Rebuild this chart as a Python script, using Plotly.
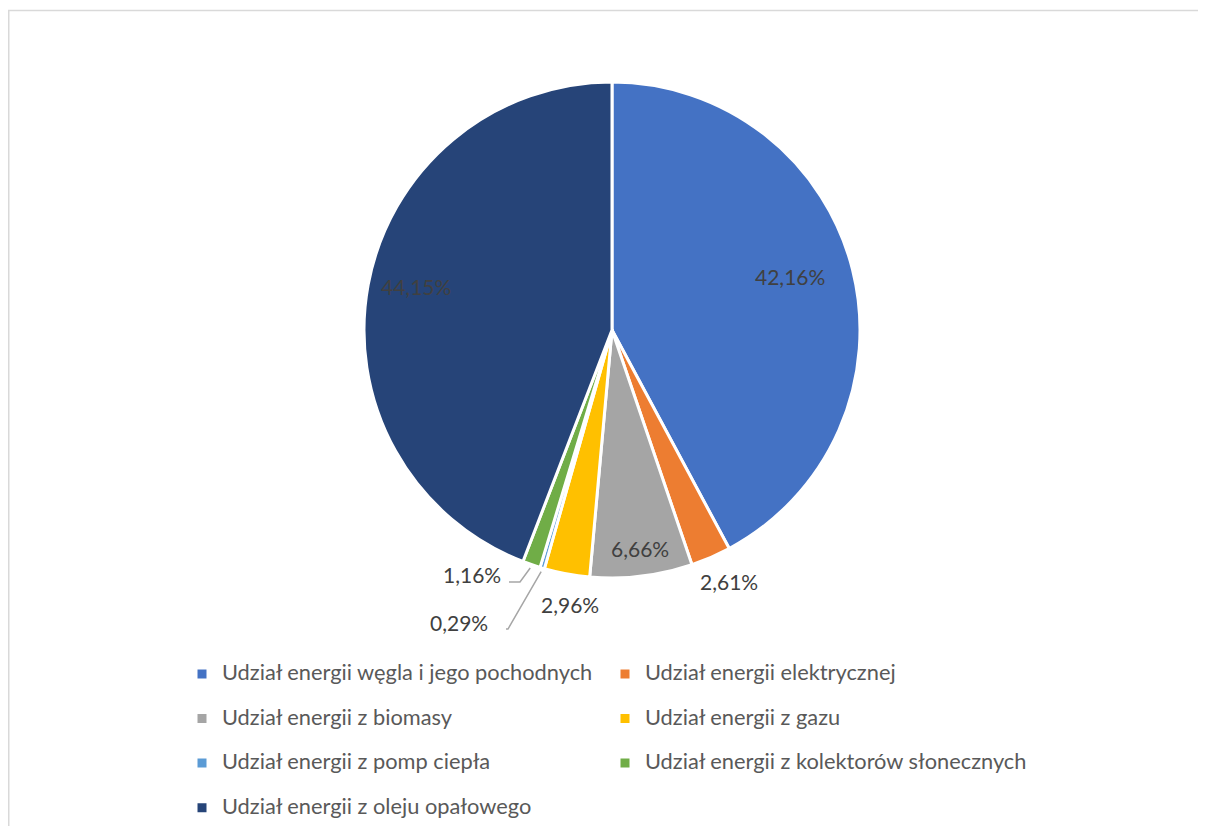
import math
import plotly.graph_objects as go

# ---- data ----
labels = [
    "Udział energii węgla i jego pochodnych",
    "Udział energii elektrycznej",
    "Udział energii z biomasy",
    "Udział energii z gazu",
    "Udział energii z pomp ciepła",
    "Udział energii z kolektorów słonecznych",
    "Udział energii z oleju opałowego",
]
values = [42.16, 2.61, 6.66, 2.96, 0.29, 1.16, 44.15]
colors = ["#4472C4", "#ED7D31", "#A5A5A5", "#FFC000", "#5B9BD5", "#70AD47", "#264478"]

# ---- layout geometry (page pixels; the page body has an 8px margin) ----
OFF = 8
W, H = 1206 - 2 * OFF, 834 - 2 * OFF
CX, CY, R = 612, 330, 248
FONT = "Lato"

def px(x):
    return (x - OFF) / W

def py(y):
    return 1 - (y - OFF) / H

# label placement: (radius factor, angle shift deg)
label_place = {
    0: dict(f=0.75, shift=-2.5),
    1: dict(f=1.12, shift=-1.5),
    2: dict(f=0.89, shift=-0.5),
    3: dict(f=1.12, shift=-1.7),
    6: dict(f=0.81, shift=2.0),
}
# small slices: labels moved aside, with leader lines (pixel positions)
moved = {
    4: dict(text_right=(490, 622), knee=[(506, 629), (508, 629)]),
    5: dict(text_right=(503, 574), knee=[(509, 582), (520, 582)]),
}

fig = go.Figure(
    go.Pie(
        labels=["<span style='font-size:21.8px'>" + l + "</span><br> " for l in labels],
        values=values,
        sort=False,
        direction="clockwise",
        rotation=0,
        marker=dict(colors=colors, line=dict(color="white", width=3)),
        textinfo="none",
        hoverinfo="percent",
        domain=dict(x=[px(CX - R), px(CX + R)], y=[py(CY + R), py(CY - R)]),
    )
)

total = sum(values)
annotations = []
shapes = []
cum = 0.0
for i, v in enumerate(values):
    a0 = cum / total * 360
    cum += v
    a1 = cum / total * 360
    mid = (a0 + a1) / 2
    txt = f"{v:.2f}%".replace(".", ",")
    if i in label_place:
        p = label_place[i]
        ang = math.radians(mid + p["shift"])
        x = CX + p["f"] * R * math.sin(ang)
        y = CY - p["f"] * R * math.cos(ang)
        annotations.append(dict(
            x=px(x), y=py(y), xref="paper", yref="paper", text=txt,
            showarrow=False, xanchor="center", yanchor="middle",
            font=dict(family=FONT, size=21, color="#404040"),
        ))
    else:
        m = moved[i]
        tx, ty = m["text_right"]
        annotations.append(dict(
            x=px(tx), y=py(ty), xref="paper", yref="paper", text=txt,
            showarrow=False, xanchor="right", yanchor="middle",
            font=dict(family=FONT, size=21, color="#404040"),
        ))
        ang = math.radians(mid)
        ex = CX + 1.015 * R * math.sin(ang)
        ey = CY - 1.015 * R * math.cos(ang)
        pts = m["knee"] + [(ex, ey)]
        path = "M " + " L ".join(f"{px(a):.5f},{py(b):.5f}" for a, b in pts)
        shapes.append(dict(type="path", xref="paper", yref="paper", path=path,
                           line=dict(color="#A6A6A6", width=1.5)))

# chart border
shapes.append(dict(type="rect", xref="paper", yref="paper",
                   x0=px(OFF + 0.75), x1=px(1240), y0=py(880), y1=py(10.5),
                   line=dict(color="#D9D9D9", width=1.5), fillcolor="rgba(0,0,0,0)", layer="below"))

fig.update_layout(
    width=W, height=H,
    margin=dict(l=0, r=0, t=0, b=0, autoexpand=False),
    paper_bgcolor="white",
    plot_bgcolor="white",
    font=dict(family=FONT, color="#595959"),
    showlegend=True,
    legend=dict(
        orientation="h",
        x=px(182), xanchor="left",
        y=py(657), yanchor="top",
        entrywidth=378, entrywidthmode="pixels",
        valign="top",
        font=dict(family=FONT, size=16, color="#595959"),
        traceorder="normal",
    ),
    annotations=annotations,
    shapes=shapes,
)

fig.write_html("out.html")
